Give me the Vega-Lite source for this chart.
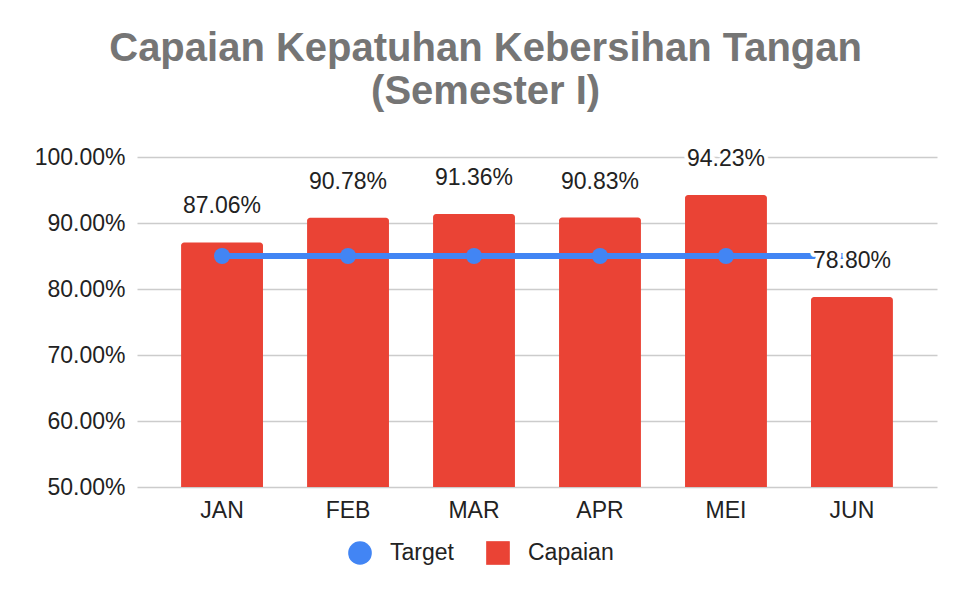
{
  "$schema": "https://vega.github.io/schema/vega-lite/v6.json",
  "width": 800,
  "height": 330,
  "autosize": {"type": "none"},
  "padding": {"left": 137, "top": 157, "right": 29, "bottom": 109},
  "title": {
    "text": ["Capaian Kepatuhan Kebersihan Tangan", "(Semester I)"],
    "font": "Liberation Sans",
    "fontSize": 40,
    "fontWeight": "bold",
    "color": "#757575",
    "lineHeight": 43,
    "anchor": "middle",
    "frame": "bounds",
    "offset": 34
  },
  "config": {
    "font": "Liberation Sans",
    "view": {"stroke": null},
    "axis": {
      "labelFont": "Liberation Sans",
      "labelFontSize": 23,
      "labelColor": "#222222",
      "domain": false,
      "ticks": false,
      "title": null
    },
    "legend": {
      "orient": "none",
      "legendX": 211,
      "legendY": 384,
      "direction": "horizontal",
      "title": null,
      "labelFont": "Liberation Sans",
      "labelFontSize": 23,
      "labelColor": "#222222",
      "symbolSize": 560,
      "symbolStrokeWidth": 0,
      "labelOffset": 18,
      "columnPadding": 32
    }
  },
  "data": {
    "values": [
      {"month": "JAN", "series": "Capaian", "value": 0.8706},
      {"month": "FEB", "series": "Capaian", "value": 0.9078},
      {"month": "MAR", "series": "Capaian", "value": 0.9136},
      {"month": "APR", "series": "Capaian", "value": 0.9083},
      {"month": "MEI", "series": "Capaian", "value": 0.9423},
      {"month": "JUN", "series": "Capaian", "value": 0.788},
      {"month": "JAN", "series": "Target", "value": 0.85},
      {"month": "FEB", "series": "Target", "value": 0.85},
      {"month": "MAR", "series": "Target", "value": 0.85},
      {"month": "APR", "series": "Target", "value": 0.85},
      {"month": "MEI", "series": "Target", "value": 0.85},
      {"month": "JUN", "series": "Target", "value": 0.85}
    ]
  },
  "encoding": {
    "x": {
      "field": "month",
      "type": "nominal",
      "sort": null,
      "scale": {"paddingInner": 0.35, "paddingOuter": 0.35},
      "axis": {"labelAngle": 0, "labelPadding": 12, "grid": false}
    },
    "y": {
      "field": "value",
      "type": "quantitative",
      "scale": {"domain": [0.5, 1], "zero": false},
      "axis": {
        "values": [0.5, 0.6, 0.7, 0.8, 0.9, 1.0],
        "format": ".2%",
        "labelPadding": 12,
        "grid": true,
        "gridColor": "#cccccc",
        "gridWidth": 1.5
      }
    }
  },
  "layer": [
    {
      "transform": [{"filter": "datum.series == 'Capaian'"}],
      "mark": {"type": "bar", "cornerRadiusTopLeft": 3, "cornerRadiusTopRight": 3},
      "encoding": {
        "y2": {"datum": 0.5},
        "color": {
          "field": "series",
          "type": "nominal",
          "scale": {"domain": ["Target", "Capaian"], "range": ["#4285F4", "#EA4335"]}
        }
      }
    },
    {
      "transform": [{"filter": "datum.series == 'Target'"}],
      "mark": {"type": "line", "strokeWidth": 6},
      "encoding": {
        "color": {"field": "series", "type": "nominal"}
      }
    },
    {
      "transform": [{"filter": "datum.series == 'Target'"}],
      "mark": {"type": "point", "filled": true, "size": 260, "opacity": 1},
      "encoding": {
        "color": {"field": "series", "type": "nominal"},
        "shape": {
          "field": "series",
          "type": "nominal",
          "scale": {"domain": ["Target", "Capaian"], "range": ["circle", "square"]}
        }
      }
    },
    {
      "transform": [{"filter": "datum.series == 'Capaian'"}],
      "mark": {
        "type": "text",
        "baseline": "bottom",
        "dy": -24,
        "fontSize": 23,
        "font": "Liberation Sans",
        "color": "white",
        "stroke": "white",
        "strokeWidth": 8,
        "strokeJoin": "round"
      },
      "encoding": {
        "text": {"field": "value", "type": "quantitative", "format": ".2%"}
      }
    },
    {
      "transform": [{"filter": "datum.series == 'Capaian'"}],
      "mark": {
        "type": "text",
        "baseline": "bottom",
        "dy": -24,
        "fontSize": 23,
        "font": "Liberation Sans",
        "color": "#222222"
      },
      "encoding": {
        "text": {"field": "value", "type": "quantitative", "format": ".2%"}
      }
    }
  ]
}
